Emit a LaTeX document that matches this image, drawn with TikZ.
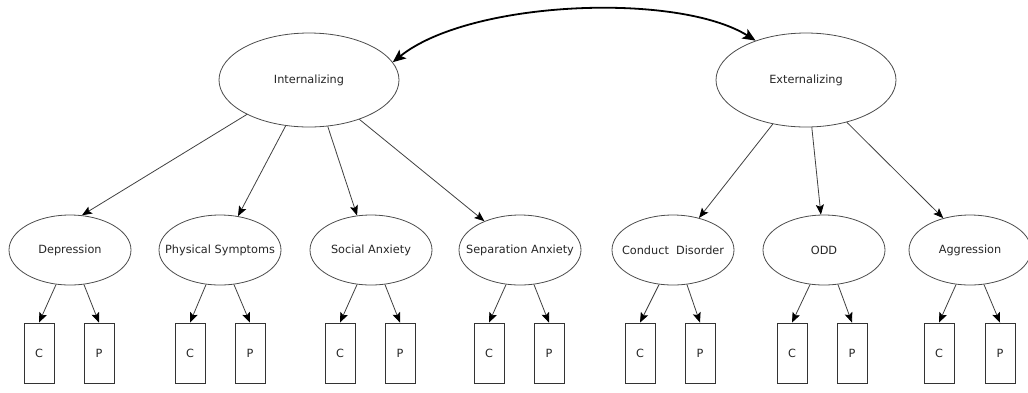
\documentclass[tikz,border=0pt]{standalone}
\usepackage{fontspec}
\setmainfont{DejaVu Sans}
\usetikzlibrary{shapes.geometric, arrows.meta}

\newcommand{\zw}[1]{\makebox[0pt]{#1}}

\begin{document}
\begin{tikzpicture}[x=1pt,y=-1pt]
	\tikzstyle{factor} = [ellipse,draw=black!70,line width=0.8pt,text=black!85,inner sep=0pt,font=\fontsize{11.3pt}{13pt}\selectfont]
	\tikzstyle{broad} = [factor,minimum width=180pt,minimum height=94pt]
	\tikzstyle{narrow} = [factor,minimum width=122pt,minimum height=70pt]
	\tikzstyle{rater} = [rectangle,draw=black!80,line width=0.8pt,text=black!85,minimum width=30pt,minimum height=60pt,inner sep=0pt,font=\fontsize{11.3pt}{13pt}\selectfont]
	\tikzstyle{edge} = [-{Stealth[length=10pt,width=8pt,inset=2pt,color=black]},draw=black!75,line width=0.8pt]
	\tikzstyle{corr} = [{Stealth[length=13pt,width=11pt,inset=3pt]}-{Stealth[length=13pt,width=11pt,inset=3pt]},line width=1.8pt]
	\useasboundingbox (0,0) rectangle (1028,392);
	% broad factors
	\node[broad] (int) at (309,80) {Internalizing};
	\node[broad] (ext) at (806,80) {Externalizing};
	% narrow factors
	\node[narrow] (dep) at (70,250) {\zw{Depression}};
	\node[narrow] (phys) at (220,250) {\zw{Physical Symptoms}};
	\node[narrow] (soc) at (371,250) {\zw{Social Anxiety}};
	\node[narrow] (sep) at (520,250) {\zw{Separation Anxiety}};
	\node[narrow] (cd) at (673,250) {\zw{Conduct\ \ Disorder}};
	\node[narrow] (odd) at (824,250) {\zw{ODD}};
	\node[narrow] (agg) at (970,250) {\zw{Aggression}};
	% informants
	\node[rater] (depC) at (39,353) {C};
	\node[rater] (depP) at (99,353) {P};
	\node[rater] (physC) at (190,353) {C};
	\node[rater] (physP) at (250,353) {P};
	\node[rater] (socC) at (340,353) {C};
	\node[rater] (socP) at (400,353) {P};
	\node[rater] (sepC) at (489,353) {C};
	\node[rater] (sepP) at (549,353) {P};
	\node[rater] (cdC) at (640,353) {C};
	\node[rater] (cdP) at (700,353) {P};
	\node[rater] (oddC) at (792,353) {C};
	\node[rater] (oddP) at (852,353) {P};
	\node[rater] (aggC) at (939,353) {C};
	\node[rater] (aggP) at (1000,353) {P};
	% correlation
	\draw[corr] (int.12) .. controls (470,0) and (678,-8) .. (ext.142);
	% loadings
	\draw[edge] (int.209) -- (dep.71);
	\draw[edge] (int.243) -- (phys.62);
	\draw[edge] (int.292) -- (soc.112);
	\draw[edge] (int.322) -- (sep.141);
	\draw[edge] (ext.233) -- (cd.51);
	\draw[edge] (ext.277) -- (odd.95);
	\draw[edge] (ext.314) -- (agg.130);
	\draw[edge] (dep.248) -- (depC.north);
	\draw[edge] (dep.292) -- (depP.north);
	\draw[edge] (phys.248) -- (physC.north);
	\draw[edge] (phys.292) -- (physP.north);
	\draw[edge] (soc.248) -- (socC.north);
	\draw[edge] (soc.292) -- (socP.north);
	\draw[edge] (sep.248) -- (sepC.north);
	\draw[edge] (sep.292) -- (sepP.north);
	\draw[edge] (cd.248) -- (cdC.north);
	\draw[edge] (cd.292) -- (cdP.north);
	\draw[edge] (odd.248) -- (oddC.north);
	\draw[edge] (odd.292) -- (oddP.north);
	\draw[edge] (agg.248) -- (aggC.north);
	\draw[edge] (agg.292) -- (aggP.north);
\end{tikzpicture}
\end{document}
